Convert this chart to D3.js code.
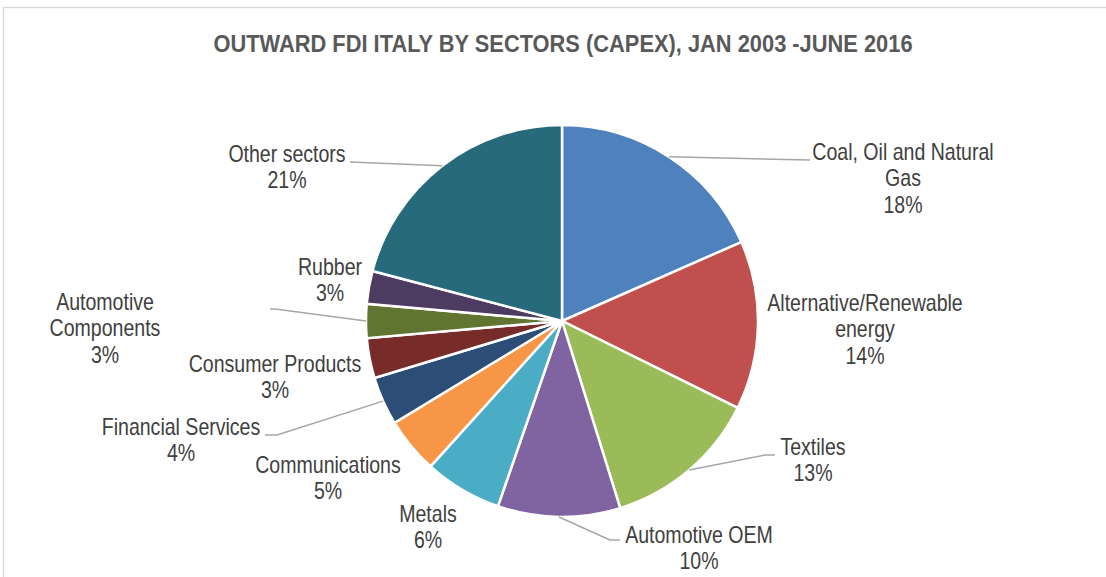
<!DOCTYPE html>
<html>
<head>
<meta charset="utf-8">
<script src="https://cdn.jsdelivr.net/npm/d3@7"></script>
<style>
  body { margin: 0; background: #fff; }
  text { font-family: "Liberation Sans Narrow", "Arial Narrow", "Liberation Sans", sans-serif; }
</style>
</head>
<body>
<div id="chart"></div>
<script>
// data
const sectors = ["Coal, Oil and Natural Gas", "Alternative/Renewable energy", "Textiles",
    "Automotive OEM", "Metals", "Communications", "Financial Services", "Consumer Products",
    "Automotive Components", "Rubber", "Other sectors"];
const shares = [18.4, 13.9, 12.9, 10.1, 6.4, 4.6, 4.0, 3.3, 2.8, 2.7, 20.9];
const colors = ["#4F81BD", "#C0504D", "#9BBB59", "#8064A2", "#4BACC6", "#F79646",
    "#2C4D75", "#772C2A", "#5F7530", "#4D3B62", "#276A7C"];

// label layout: text lines, centre x, first baseline, leader end (or null)
const labelLayout = [
    {lines: ["Coal, Oil and Natural", "Gas"], x: 903, y: 160, leader: [[810, 160]]},
    {lines: ["Alternative/Renewable", "energy"], x: 865, y: 311, leader: null},
    {lines: ["Textiles"], x: 813, y: 455, leader: [[765, 455], [775, 455]]},
    {lines: ["Automotive OEM"], x: 699, y: 543, leader: [[610, 540], [620, 540]]},
    {lines: ["Metals"], x: 428, y: 522, leader: null},
    {lines: ["Communications"], x: 328, y: 473, leader: null},
    {lines: ["Financial Services"], x: 181, y: 435, leader: [[277, 435], [265, 435]]},
    {lines: ["Consumer Products"], x: 275, y: 372, leader: null},
    {lines: ["Automotive", "Components"], x: 105, y: 310, leader: [[275, 309], [270, 309]]},
    {lines: ["Rubber"], x: 330, y: 275, leader: null},
    {lines: ["Other sectors"], x: 287, y: 162, leader: [[350, 162]]}
];

const width = 1106, height = 577;
const cx = 562, cy = 321, radius = 196;
const lineH = 26.5;
// no narrow font installed, so squeeze the regular one
const squeeze = 0.85;

const svg = d3.select("#chart").append("svg")
    .attr("width", width)
    .attr("height", height);

// chart frame (only top and left edges fall inside the picture)
svg.append("rect")
    .attr("x", 3.5).attr("y", 7.5)
    .attr("width", 1110).attr("height", 600)
    .attr("fill", "none")
    .attr("stroke", "#d9d9d9")
    .attr("stroke-width", 1.5);

svg.append("text")
    .attr("transform", "translate(563,52) scale(0.95,1)")
    .attr("text-anchor", "middle")
    .style("font-size", "23px")
    .style("font-weight", "bold")
    .style("fill", "#595959")
    .text("OUTWARD FDI ITALY BY SECTORS (CAPEX), JAN 2003 -JUNE 2016");

const pie = d3.pie().sort(null).value(d => d.value);
const arcs = pie(sectors.map((s, i) => ({name: s, value: shares[i], color: colors[i]})));

const arc = d3.arc().innerRadius(0).outerRadius(radius);

const g = svg.append("g").attr("transform", `translate(${cx},${cy})`);

g.selectAll(".slice")
    .data(arcs)
    .enter()
    .append("path")
    .attr("class", "slice")
    .attr("d", arc)
    .style("fill", d => d.data.color)
    .style("stroke", "#fff")
    .style("stroke-width", 2.5);

// leader lines start on the rim at the mid angle of each slice
arcs.forEach((d, i) => {
    const lay = labelLayout[i];
    if (!lay.leader) return;
    const mid = (d.startAngle + d.endAngle) / 2;
    const p0 = [cx + radius * Math.sin(mid), cy - radius * Math.cos(mid)];
    svg.append("polyline")
        .attr("points", [p0].concat(lay.leader).map(p => p.join(",")).join(" "))
        .attr("fill", "none")
        .attr("stroke", "#a6a6a6")
        .attr("stroke-width", 1.5);
});

// labels
const labels = svg.selectAll(".label")
    .data(arcs)
    .enter()
    .append("text")
    .attr("class", "label")
    .attr("transform", (d, i) => `translate(${labelLayout[i].x},${labelLayout[i].y}) scale(${squeeze},1)`)
    .attr("text-anchor", "middle")
    .style("font-size", "23px")
    .style("fill", "#404040");

labels.each(function(d, i) {
    const lay = labelLayout[i];
    const t = d3.select(this);
    const rows = lay.lines.concat([Math.round(d.data.value) + "%"]);
    rows.forEach((r, k) => {
        t.append("tspan")
            .attr("x", 0)
            .attr("y", k * lineH)
            .text(r);
    });
});
</script>
</body>
</html>
